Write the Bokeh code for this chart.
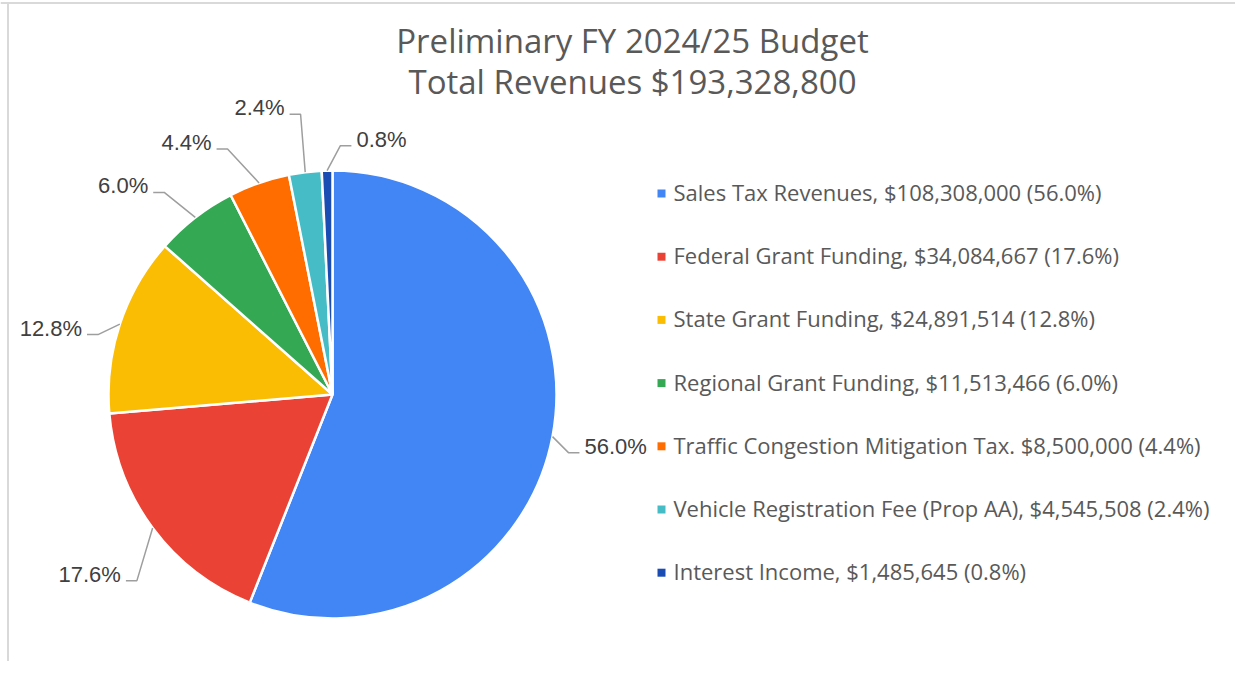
import numpy as np
from bokeh.plotting import figure
from bokeh.models import Range1d, ColumnDataSource
from bokeh.core.properties import value
from bokeh.embed import file_html
from bokeh.resources import INLINE

# ---------------- data ----------------
categories = ["Sales Tax Revenues", "Federal Grant Funding", "State Grant Funding",
              "Regional Grant Funding", "Traffic Congestion Mitigation Tax",
              "Vehicle Registration Fee (Prop AA)", "Interest Income"]
amounts = [108308000, 34084667, 24891514, 11513466, 8500000, 4545508, 1485645]
percent_labels = ["56.0%", "17.6%", "12.8%", "6.0%", "4.4%", "2.4%", "0.8%"]
legend_labels = [
    "Sales Tax Revenues, $108,308,000 (56.0%)",
    "Federal Grant Funding, $34,084,667 (17.6%)",
    "State Grant Funding, $24,891,514 (12.8%)",
    "Regional Grant Funding, $11,513,466 (6.0%)",
    "Traffic Congestion Mitigation Tax. $8,500,000 (4.4%)",
    "Vehicle Registration Fee (Prop AA), $4,545,508 (2.4%)",
    "Interest Income, $1,485,645 (0.8%)",
]
title_lines = ["Preliminary FY 2024/25 Budget", "Total Revenues $193,328,800"]

# ---------------- styles / layout ----------------
colors = ["#4285F4", "#EA4335", "#FBBC04", "#34A853", "#FF6D01", "#46BDC6", "#1A4DB3"]
W, H = 1235, 661
OX, OY = 0, 0             # page position where the canvas actually lands
def X(px): return px - OX
def Y(py): return H - (py - OY)   # page y -> data y (y up)

CX, CY, R = 332, 394, 224
# leader elbow radius and angular nudge (deg, clockwise) per label
label_r = [243, 270, 242, 263, 267, 282, 249]
label_nudge = [3, -7, -4, -2, -4, 0.5, 3.2]
HSEG, GAP, LIFT = 11, 5, 6.5

p = figure(width=W, height=H, output_backend="svg", toolbar_location=None,
           x_range=Range1d(0, W), y_range=Range1d(0, H),
           min_border=0, outline_line_color=None, background_fill_color="white",
           border_fill_color="white")
p.axis.visible = False
p.grid.visible = False

# border lines of the chart frame (top and left)
p.line([X(0), X(1251)], [Y(2.5), Y(2.5)], line_color="#d9d9d9", line_width=2)
p.line([X(7.5), X(7.5)], [Y(2), Y(677)], line_color="#d9d9d9", line_width=2)

# ---------------- pie ----------------
vals = np.array(amounts, dtype=float)
frac = vals / vals.sum()
cum = np.concatenate([[0], np.cumsum(frac)])
start = np.pi / 2 - 2 * np.pi * cum[:-1]
end = np.pi / 2 - 2 * np.pi * cum[1:]
src = ColumnDataSource(dict(x=[X(CX)] * len(vals), y=[Y(CY)] * len(vals),
                            start=start, end=end, color=colors))
p.wedge(x="x", y="y", radius=R, start_angle="start", end_angle="end",
        direction="clock", fill_color="color", line_color="white", line_width=2.5,
        source=src)

# ---------------- labels with leader lines ----------------
mid = (cum[:-1] + cum[1:]) / 2
lx, ly, ltxt, lalign = [], [], [], []
for i in range(len(vals)):
    th = np.pi / 2 - 2 * np.pi * mid[i]
    ex, ey = X(CX) + R * np.cos(th), Y(CY) + R * np.sin(th)
    th2 = th - np.deg2rad(label_nudge[i])
    bx, by = X(CX) + label_r[i] * np.cos(th2), Y(CY) + label_r[i] * np.sin(th2)
    side = 1 if bx > X(CX) else -1
    hx = bx + side * HSEG
    p.line([ex, bx, hx], [ey, by, by], line_color="#9e9e9e", line_width=1.5)
    lx.append(hx + side * GAP)
    ly.append(by + LIFT)
    ltxt.append(percent_labels[i])
    lalign.append("left" if side > 0 else "right")
p.text(x=lx, y=ly, text=ltxt, text_align=lalign, text_baseline="middle",
       text_font=value("Liberation Sans"), text_font_size="22px", text_color="#404040")

# ---------------- title ----------------
p.text(x=[X(632), X(632)], y=[Y(40), Y(81)], text=title_lines, text_align="center",
       text_baseline="middle", text_font=value("Open Sans"), text_font_size="33px",
       text_color="#595959")

# ---------------- legend ----------------
row0, drow = 193, 63.2
ry = [Y(row0 + i * drow) for i in range(len(vals))]
p.scatter(x=[X(661)] * len(vals), y=ry, marker="square", size=8, fill_color=colors,
          line_color=None)
p.text(x=[X(673)] * len(vals), y=[v + 1.5 for v in ry], text=legend_labels,
       text_align="left", text_baseline="middle", text_font=value("Open Sans"),
       text_font_size="22px", text_color="#595959")

open("out.html", "w").write(file_html(p, INLINE))
